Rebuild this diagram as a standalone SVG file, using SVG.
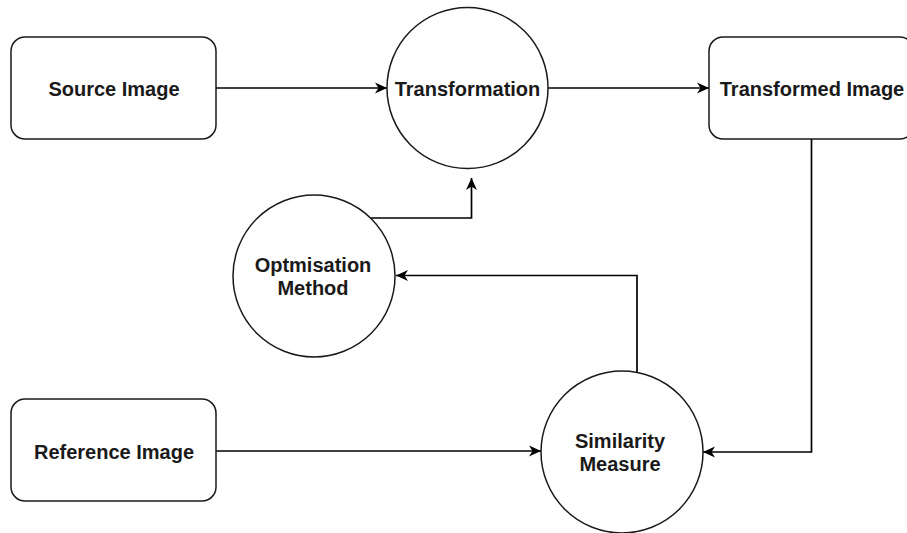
<svg xmlns="http://www.w3.org/2000/svg" width="907" height="533" viewBox="0 0 907 533">
<style>
.shape{fill:#fff;stroke:#1a1a1a;stroke-width:1.5}
.lbl{font-family:"Liberation Sans",Arial,sans-serif;font-weight:bold;font-size:20px;fill:#1a1a1a;text-anchor:middle}
.edge{fill:none;stroke:#000;stroke-width:1.7;marker-end:url(#arrow)}
</style>
<defs>
<marker id="arrow" markerUnits="userSpaceOnUse" markerWidth="14" markerHeight="12" refX="12" refY="6" orient="auto">
<path d="M0,0.5 L12,6 L0,11.5 L3.5,6 Z" fill="#000"/>
</marker>
</defs>
<rect width="907" height="533" fill="#fff"/>
<g id="connectors">
<path class="edge" d="M216,88 L387,88"/>
<path class="edge" d="M548,88 L709,88"/>
<path class="edge" d="M811.5,139 L811.5,452 L703,452"/>
<path class="edge" d="M216,451 L541,451"/>
<path class="edge" d="M637,372 L637,275.5 L396,275.5"/>
<path class="edge" d="M371,218 L471.5,218 L471.5,178"/>
</g>
<g id="source-image">
<rect class="shape" x="11" y="37" width="205" height="102" rx="14"/>
<text class="lbl" x="114" y="96">Source Image</text>
</g>
<g id="transformation">
<circle class="shape" cx="467.5" cy="88" r="80.5"/>
<text class="lbl" x="467.5" y="96">Transformation</text>
</g>
<g id="transformed-image">
<rect class="shape" x="709" y="37" width="205" height="102" rx="14"/>
<text class="lbl" x="812" y="96">Transformed Image</text>
</g>
<g id="optimisation-method">
<circle class="shape" cx="314" cy="276" r="81"/>
<text class="lbl" x="313" y="272">Optmisation</text>
<text class="lbl" x="313" y="295">Method</text>
</g>
<g id="reference-image">
<rect class="shape" x="11" y="399" width="205" height="102" rx="14"/>
<text class="lbl" x="114" y="459">Reference Image</text>
</g>
<g id="similarity-measure">
<circle class="shape" cx="622" cy="452" r="81"/>
<text class="lbl" x="620" y="448">Similarity</text>
<text class="lbl" x="620" y="471">Measure</text>
</g>
</svg>
